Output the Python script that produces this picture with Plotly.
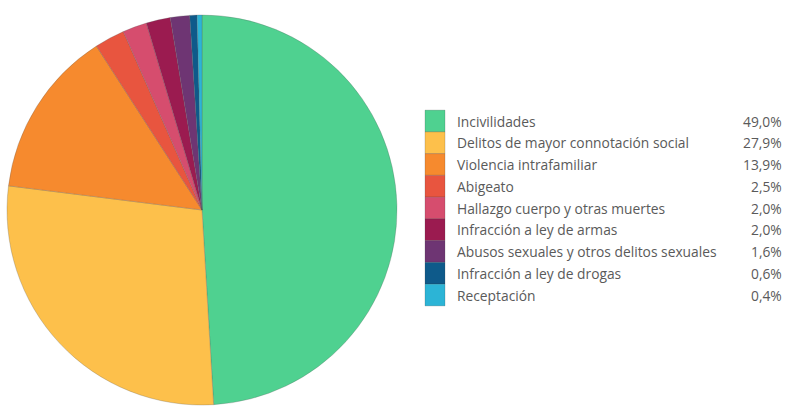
import plotly.graph_objects as go

labels = [
    "Incivilidades",
    "Delitos de mayor connotación social",
    "Violencia intrafamiliar",
    "Abigeato",
    "Hallazgo cuerpo y otras muertes",
    "Infracción a ley de armas",
    "Abusos sexuales y otros delitos sexuales",
    "Infracción a ley de drogas",
    "Receptación",
]
values = [49.0, 27.9, 13.9, 2.5, 2.0, 2.0, 1.6, 0.6, 0.4]
colors = ["#4FD190", "#FDC04B", "#F68A2E", "#E8553F", "#D64D6E",
          "#9B1B50", "#6E3573", "#0E5A8A", "#2CB4D6"]

W, H = 790, 407
fig = go.Figure()
fig.add_trace(go.Pie(
    labels=labels, values=values, sort=False, direction="clockwise", rotation=0,
    marker=dict(colors=colors, line=dict(color="rgba(90,90,90,0.45)", width=0.6)),
    textinfo="none", hoverinfo="label+percent", showlegend=False,
    domain=dict(x=[7 / W, 397 / W], y=[1 / H, 393 / H]),
))

font = dict(family="Open Sans, Segoe UI, sans-serif", size=13.8, color="#5a5a5a")
row0, step, sw_x0, sw_x1 = 121, 21.75, 425, 445
shapes, annotations = [], []
for i, (lab, val, col) in enumerate(zip(labels, values, colors)):
    yc = row0 + i * step
    shapes.append(dict(type="rect", xref="paper", yref="paper",
                       x0=sw_x0 / W, x1=sw_x1 / W,
                       y0=1 - (yc - step / 2) / H, y1=1 - (yc + step / 2) / H,
                       fillcolor=col, line=dict(color="rgba(60,60,60,0.35)", width=0.6)))
    annotations.append(dict(xref="paper", yref="paper", x=455 / W, y=1 - yc / H,
                            xanchor="left", yanchor="middle", text=lab,
                            showarrow=False, font=font))
    annotations.append(dict(xref="paper", yref="paper", x=784 / W, y=1 - yc / H,
                            xanchor="right", yanchor="middle",
                            text=f"{val:.1f}%".replace(".", ","),
                            showarrow=False, font=font))

fig.update_layout(
    width=W, height=H, margin=dict(l=0, r=0, t=0, b=0),
    paper_bgcolor="white", plot_bgcolor="white",
    shapes=shapes, annotations=annotations,
)
fig.write_html("out.html", config={"displayModeBar": False},
               post_script="document.body.style.margin='0';")
